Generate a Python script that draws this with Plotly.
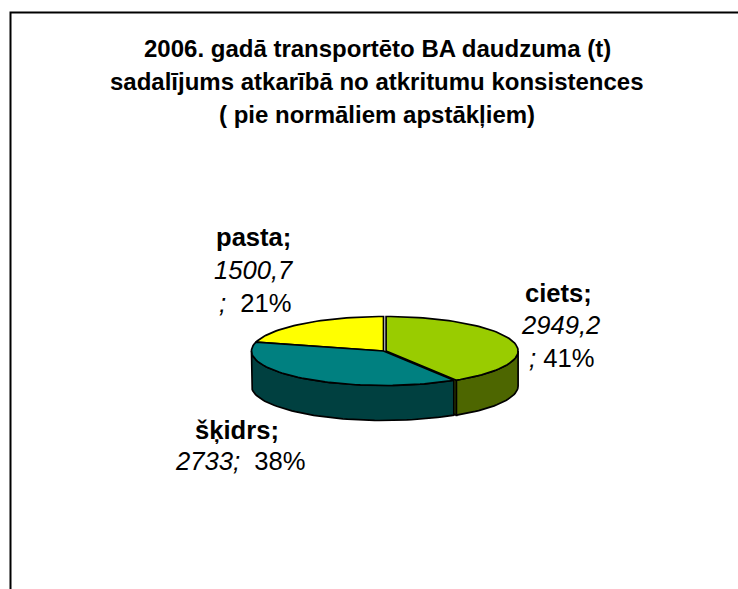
import math
import plotly.graph_objects as go

TITLE_LINES = ["2006. gadā transportēto BA daudzuma (t)",
               "sadalījums atkarībā no atkritumu konsistences",
               "( pie normāliem apstākļiem)"]
CATEGORIES = ["ciets", "šķidrs", "pasta"]
VALUES = [2949.2, 2733, 1500.7]
VALUE_LABELS = ["2949,2", "2733", "1500,7"]
PERCENT_LABELS = ["41%", "38%", "21%"]
TOP_COLORS = ["#99CC00", "#008080", "#FFFF00"]
SIDE_COLORS = ["#4D6600", "#004040", "#808000"]

CX, CY, RX, RY, DEPTH = 383.5, 351, 132, 34.5, 35
EXPLODE_DX = [2.6, 0, 0]

total = sum(VALUES)
angles = [0]
for v in VALUES:
    angles.append(angles[-1] + v / total * 360)


def pt(deg, dx=0, dy=0):
    a = math.radians(deg)
    return CX + dx + RX * math.sin(a), CY + dy - RY * math.cos(a)


def arc(a0, a1, dx=0, dy=0):
    n = max(2, int(abs(a1 - a0) / 2))
    return [pt(a0 + (a1 - a0) * i / n, dx, dy) for i in range(n + 1)]


fig = go.Figure()


def poly(points, color):
    xs = [p[0] for p in points] + [points[0][0]]
    ys = [p[1] for p in points] + [points[0][1]]
    fig.add_trace(go.Scatter(x=xs, y=ys, mode="lines", fill="toself", fillcolor=color,
                             line=dict(color="black", width=1.7), hoverinfo="skip",
                             showlegend=False))


order = [2, 0, 1]
for i in order:
    a0, a1 = angles[i], angles[i + 1]
    dx = EXPLODE_DX[i]
    lo, hi = max(a0, 90), min(a1, 270)
    if i == 0:
        poly([(CX + dx, CY), pt(a1, dx), pt(a1, dx, DEPTH), (CX + dx, CY + DEPTH)], SIDE_COLORS[i])
    if lo < hi:
        poly(arc(lo, hi, dx) + arc(hi, lo, dx, DEPTH), SIDE_COLORS[i])
    poly([(CX + dx, CY)] + arc(a0, a1, dx), TOP_COLORS[i])

fig.add_trace(go.Scatter(x=[10.5, 10.5, 738], y=[589, 12.5, 12.5], mode="lines",
                         line=dict(color="black", width=2), hoverinfo="skip", showlegend=False))

annotations = []


def text(x, y, s, size, anchor="center"):
    annotations.append(dict(x=x, y=y, text=s, xref="x", yref="y", showarrow=False,
                            xanchor=anchor, yanchor="middle",
                            font=dict(family="Liberation Sans, Arial, sans-serif", size=size, color="black")))


for y, line in zip([48, 81, 114], TITLE_LINES):
    text(377, y, f"<b>{line}</b>", 24)

LABEL_SIZE = 25.6
text(558, 293, f"<b>{CATEGORIES[0]};</b>", LABEL_SIZE)
text(560, 325, f"<i>{VALUE_LABELS[0]}</i>", LABEL_SIZE)
text(561.5, 358, f"<i>;</i> {PERCENT_LABELS[0]}", LABEL_SIZE)

text(237, 430, f"<b>{CATEGORIES[1]};</b>", LABEL_SIZE)
text(240, 461, f"<i>{VALUE_LABELS[1]};</i>&nbsp; {PERCENT_LABELS[1]}", LABEL_SIZE)

text(253, 237, f"<b>{CATEGORIES[2]};</b>", LABEL_SIZE)
text(254, 270, f"<i>{VALUE_LABELS[2]}</i>", LABEL_SIZE)
text(255, 303, f"<i>;</i>&nbsp; {PERCENT_LABELS[2]}", LABEL_SIZE)

fig.update_layout(
    width=738, height=589, margin=dict(l=0, r=0, t=0, b=0),
    paper_bgcolor="white", plot_bgcolor="white", showlegend=False,
    xaxis=dict(range=[0, 738], visible=False, fixedrange=True),
    yaxis=dict(range=[589, 0], visible=False, fixedrange=True),
    annotations=annotations,
)
fig.write_html("out.html", config={"displayModeBar": False},
               post_script="document.body.style.margin='0';document.body.style.overflow='hidden';")
